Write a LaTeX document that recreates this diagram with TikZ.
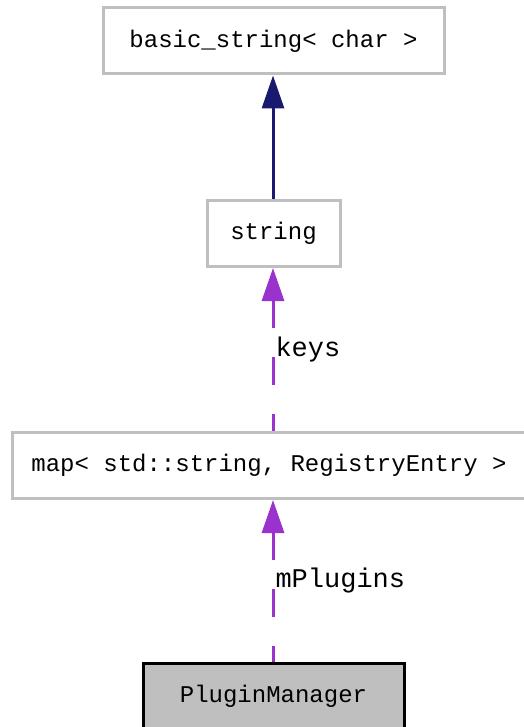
\documentclass[tikz,border=0pt]{standalone}
\usepackage{fontspec}
\setmainfont{Liberation Mono}
\usetikzlibrary{arrows.meta}
\definecolor{edgenavy}{HTML}{191970}
\definecolor{edgepurple}{HTML}{9A32CD}
\definecolor{boxgray}{HTML}{BFBFBF}
\begin{document}
\begin{tikzpicture}[x=1pt, y=-1pt,
    box/.style={draw=boxgray, line width=3pt, rectangle, minimum height=66pt, inner sep=0pt,
        font=\fontsize{24}{28}\selectfont},
    mainbox/.style={box, draw=black, fill=boxgray},
    inherit/.style={draw=edgenavy, line width=3pt, {Triangle[length=33pt, width=22pt]}-},
    usage/.style={draw=edgepurple, line width=3pt, dash pattern=on 28pt off 29pt,
        {Triangle[length=33pt, width=22pt]}-},
    elabel/.style={anchor=west, inner sep=1pt, font=\fontsize{27}{30}\selectfont}]
    \useasboundingbox (0,0) rectangle (523,727);
    \node[box, minimum width=341pt] (B) at (273.5,41) {basic\_string< char >};
    \node[box, minimum width=133pt] (S) at (273.5,233.5) {string};
    \node[box, minimum width=514pt] (M) at (269,465.5) {map< std::string, RegistryEntry >};
    \node[mainbox, minimum width=261pt] (P) at (273.5,696) {PluginManager};
    \draw[inherit] (B.south -| 273,0) -- (S.north -| 273,0);
    \draw[usage] (S.south -| 273,0) -- (M.north -| 273,0) node[elabel, midway] (K) {keys};
    \draw[usage] (M.south -| 273,0) -- (P.north -| 273,0) node[elabel, midway] (L) {mPlugins};
\end{tikzpicture}
\end{document}
